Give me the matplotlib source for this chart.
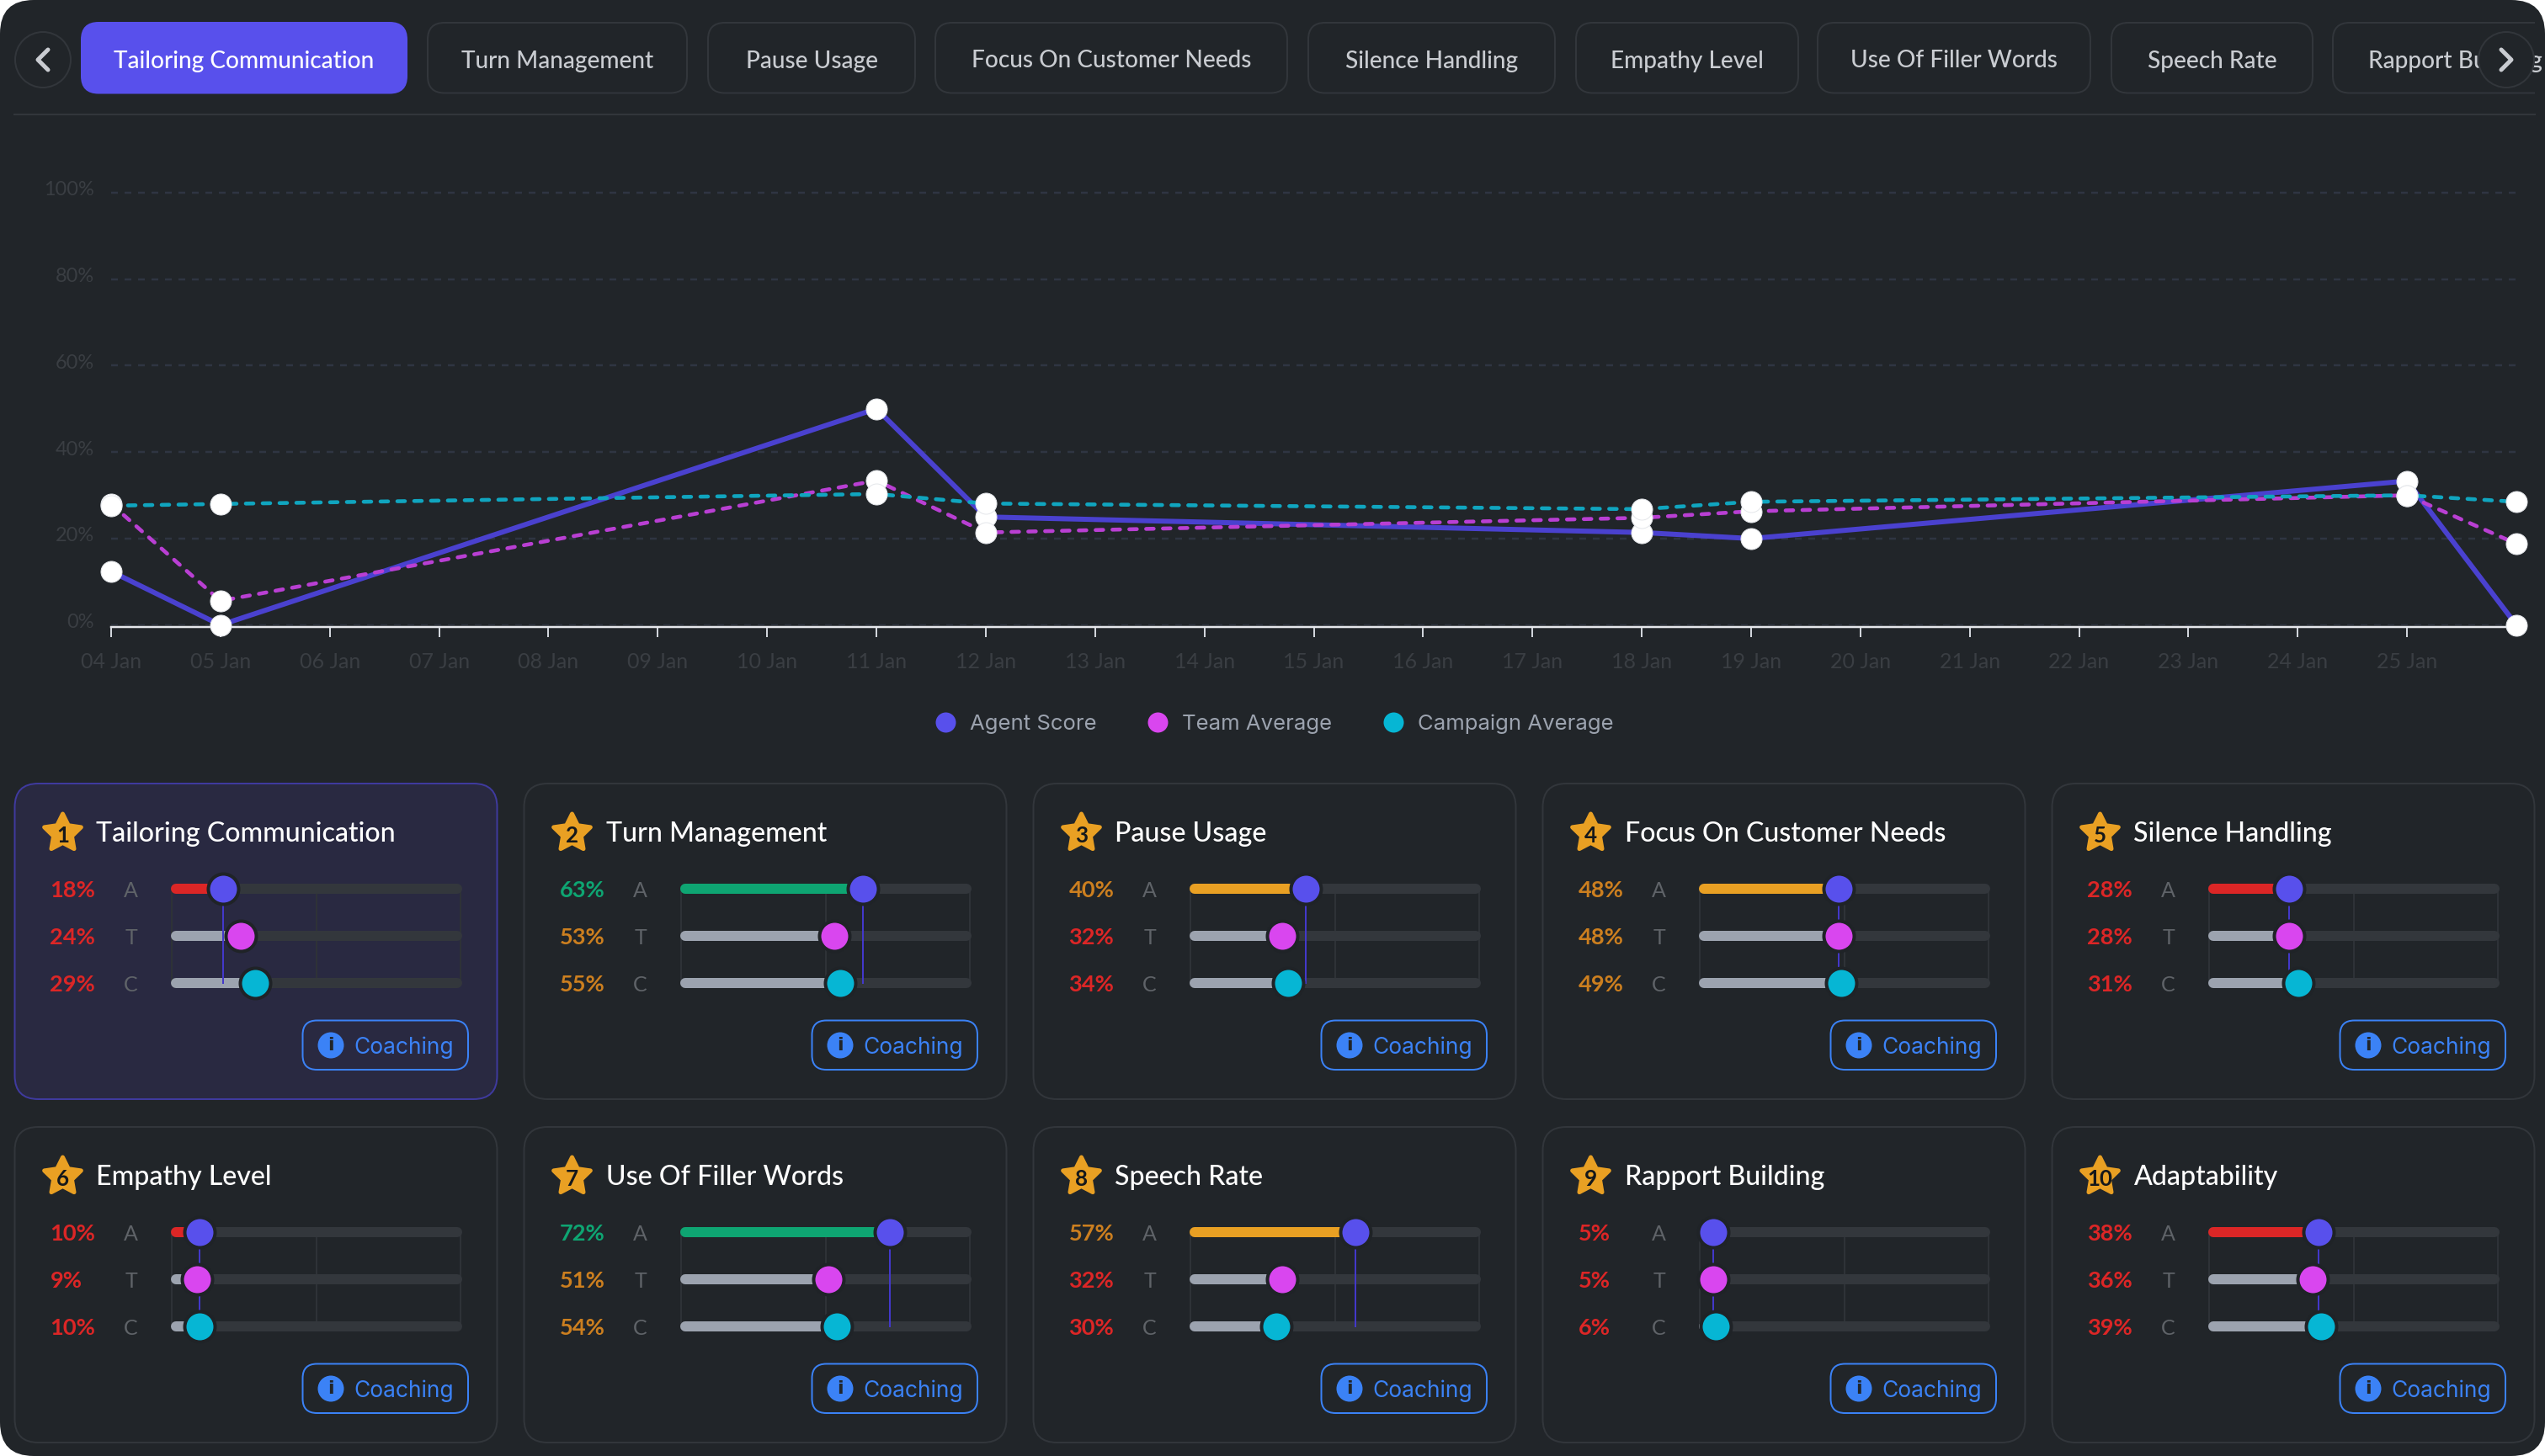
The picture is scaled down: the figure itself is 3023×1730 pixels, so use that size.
import matplotlib
matplotlib.use("Agg")
import matplotlib.pyplot as plt
from matplotlib.patches import FancyBboxPatch, Circle, Rectangle, PathPatch
from matplotlib.path import Path
from matplotlib.lines import Line2D
from matplotlib.transforms import Affine2D, ScaledTranslation

W, H = 3023, 1730
DPI = 100
plt.rcParams['lines.scale_dashes'] = False
plt.rcParams['font.family'] = ['Lato', 'DejaVu Sans']

# ---------- data ----------
tabs = ["Tailoring Communication", "Turn Management", "Pause Usage", "Focus On Customer Needs",
        "Silence Handling", "Empathy Level", "Use Of Filler Words", "Speech Rate", "Rapport Building"]
tab_edges = [(97, 483), (508, 816), (841, 1087), (1111, 1529), (1554, 1847),
             (1872, 2136), (2159, 2483), (2508, 2747), (2771, 3120)]

dates = ["04 Jan", "05 Jan", "06 Jan", "07 Jan", "08 Jan", "09 Jan", "10 Jan", "11 Jan", "12 Jan",
         "13 Jan", "14 Jan", "15 Jan", "16 Jan", "17 Jan", "18 Jan", "19 Jan", "20 Jan", "21 Jan",
         "22 Jan", "23 Jan", "24 Jan", "25 Jan"]
point_days = [0, 1, 7, 8, 14, 15, 21, 22]
agent_series = [12.4, 0, 50, 25, 21.4, 20, 33.3, 0]
team_series = [28, 5.6, 33.4, 21.4, 24.8, 26.3, 30, 18.8]
campaign_series = [27.6, 28, 30.3, 28.1, 26.8, 28.5, 30, 28.5]
y_ticks = [0, 20, 40, 60, 80, 100]
series_names = ["Agent Score", "Team Average", "Campaign Average"]

card_titles = ["Tailoring Communication", "Turn Management", "Pause Usage", "Focus On Customer Needs",
               "Silence Handling", "Empathy Level", "Use Of Filler Words", "Speech Rate",
               "Rapport Building", "Adaptability"]
agent_vals = [18, 63, 40, 48, 28, 10, 72, 57, 5, 38]
team_vals = [24, 53, 32, 48, 28, 9, 51, 32, 5, 36]
camp_vals = [29, 55, 34, 49, 31, 10, 54, 30, 6, 39]
row_letters = ["A", "T", "C"]

# ---------- style ----------
BG = "#212529"
BORDER = "#32363b"
AGENT, TEAM, CAMP = "#5850ec", "#d946ef", "#06b6d4"
L_AGENT, L_TEAM, L_CAMP = "#4a41cf", "#b93fd3", "#10a5bf"
RED, ORANGE, GREEN = "#dc2626", "#e9a023", "#0ea572"
TEXT_ORANGE = "#cc7f1f"
BLUE = "#3b82f6"
TRACK = "#33373c"
GREY = "#9ca3af"
DIM = "#3a3e43"


def pt(px):
    return px * 0.72


def grade(v):
    return RED if v < 40 else (ORANGE if v < 60 else GREEN)


def grade_text(v):
    return RED if v < 40 else (TEXT_ORANGE if v < 60 else GREEN)


fig = plt.figure(figsize=(W / DPI, H / DPI), dpi=DPI, facecolor="white")
ui = fig.add_axes([0, 0, 1, 1], zorder=0)
ui.set_xlim(0, W)
ui.set_ylim(H, 0)
ui.axis("off")


def rrect(x0, y0, x1, y1, r, fc="none", ec="none", lw=0, ax=ui, **kw):
    p = FancyBboxPatch((x0, y0), x1 - x0, y1 - y0, boxstyle=f"round,pad=0,rounding_size={r}",
                       fc=fc, ec=ec, lw=pt(lw), **kw)
    ax.add_patch(p)
    return p


def label(x, y, s, size, color, ha="left", weight="normal", family=None, **kw):
    return ui.text(x, y, s, fontsize=pt(size), color=color, ha=ha, va="center_baseline",
                   fontweight=weight, family=family or ['Lato', 'DejaVu Sans'], **kw)


rrect(0, 0, W, H, 40, fc=BG)

# ---------- tabs ----------
clip = Rectangle((0, 0), 3011, H, transform=ui.transData)
for i, (name, (x0, x1)) in enumerate(zip(tabs, tab_edges)):
    active = i == 0
    p = rrect(x0, 27, x1, 110.5, 20, fc=AGENT if active else "none",
              ec=AGENT if active else BORDER, lw=2)
    p.set_clip_path(clip)
    t = label((x0 + x1) / 2 if i < 8 else 2813, 70, name, 28, "white" if active else "#c9ccd1",
              ha="center" if i < 8 else "left", weight=500)
    t.set_clip_path(clip)

for cx, d in ((51, -1), (2977, 1)):
    ui.add_patch(Circle((cx, 71), 33, fc=BG, ec=BORDER, lw=pt(2), zorder=3))
    ui.add_line(Line2D([cx - 6 * d, cx + 6 * d, cx - 6 * d], [59, 71, 83], color="#c9ccd1", lw=pt(5),
                       solid_capstyle="round", solid_joinstyle="round", zorder=4))
ui.add_line(Line2D([17, 3011], [136, 136], color=BORDER, lw=pt(2)))

# ---------- main chart ----------
Y0, Y100 = 742.7, 228.7
X0, X1 = 132, 2989
top_val = 105
top_px = Y0 - (Y0 - Y100) * top_val / 100
chart = fig.add_axes([X0 / W, 1 - Y0 / H, (X1 - X0) / W, (Y0 - top_px) / H], zorder=1)
chart.patch.set_alpha(0)
chart.set_xlim(0, 22)
chart.set_ylim(0, top_val)
for s in ("top", "left", "right"):
    chart.spines[s].set_visible(False)
chart.spines["bottom"].set_position(("outward", pt(2.3)))
chart.spines["bottom"].set_color("#e5e7eb")
chart.spines["bottom"].set_linewidth(pt(2.5))
chart.set_xticks(range(len(dates)))
chart.set_xticklabels(dates)
chart.set_yticks(y_ticks)
chart.set_yticklabels([f"{v}%" for v in y_ticks])
chart.tick_params(axis="x", length=pt(12), width=pt(2), color="#d1d5db", pad=pt(18),
                  labelsize=pt(25), labelcolor=DIM)
chart.tick_params(axis="y", length=0, pad=pt(20), labelsize=pt(23.5), labelcolor=DIM)
shift = ScaledTranslation(0, 5 / DPI, fig.dpi_scale_trans)
for lab in chart.get_yticklabels():
    lab.set_transform(lab.get_transform() + shift)
chart.grid(axis="y", color="#2f3542", lw=pt(2.5), linestyle=(0, (pt(8), pt(8))))
chart.set_axisbelow(True)

chart.plot(point_days, agent_series, color=L_AGENT, lw=pt(6), zorder=3, clip_on=False,
           solid_joinstyle="miter")
for ser, col in ((team_series, L_TEAM), (campaign_series, L_CAMP)):
    chart.plot(point_days, ser, color=col, lw=pt(4.6), zorder=3, clip_on=False,
               linestyle=(0, (pt(9), pt(11))), dash_capstyle="round")
for ser in (agent_series, team_series, campaign_series):
    chart.scatter(point_days, ser, s=pt(25) ** 2, color="white", edgecolor="#e5e7eb",
                  linewidth=pt(1), zorder=4, clip_on=False)

handles = [Line2D([], [], ls="none", marker="o", ms=pt(24), color=c, mew=0) for c in (AGENT, TEAM, CAMP)]
leg = chart.legend(handles, series_names, ncol=3, loc="center", frameon=False,
                   bbox_to_anchor=(1514, 860.5), bbox_transform=ui.transData,
                   prop={"family": "Inter", "size": pt(25.7)}, labelcolor=GREY,
                   handlelength=0.94, handletextpad=0.66, columnspacing=2.35, borderpad=0, borderaxespad=0)

# ---------- cards ----------
CARD_W, CARD_H = 573, 375
PITCH = 605
ROW_TOPS = (931, 1339)
TRACK_L, TRACK_W = 185, 346
ROWS_Y = (124.5, 180.5, 236.5)
CAP = 6 / TRACK_W * 100
star_path = Path.unit_regular_star(5, innerCircle=0.5)

for i, title in enumerate(card_titles):
    cx0 = 17.5 + PITCH * (i % 5)
    cy0 = ROW_TOPS[i // 5]
    sel = i == 0
    rrect(cx0, cy0, cx0 + CARD_W, cy0 + CARD_H, 28, fc="#292941" if sel else "none",
          ec="#3f3a9e" if sel else BORDER, lw=2)

    # star + rank
    sx, sy = cx0 + 57, cy0 + 59
    ui.add_patch(PathPatch(star_path, fc=ORANGE, ec=ORANGE, lw=pt(5), joinstyle="round",
                           transform=Affine2D().scale(23, -23).translate(sx, sy) + ui.transData))
    label(sx, sy + 1, str(i + 1), 26, "#15181b", ha="center", weight="bold")
    label(cx0 + 97, cy0 + 57, title, 32.2, "white", weight=500)

    vals = (agent_vals[i], team_vals[i], camp_vals[i])
    for v, letter, ry in zip(vals, row_letters, ROWS_Y):
        label(cx0 + 42, cy0 + ry + 1, f"{v}%", 27.2, grade_text(v), weight="bold")
        label(cx0 + 146, cy0 + ry + 1, letter, 25, "#5f6368", ha="right")

    # score tracks: one small axes per card
    step = ROWS_Y[1] - ROWS_Y[0]
    top = cy0 + ROWS_Y[0] - step / 2
    ax = fig.add_axes([(cx0 + TRACK_L) / W, 1 - (top + 3 * step) / H, TRACK_W / W, 3 * step / H], zorder=2)
    ax.set_xlim(0, 100)
    ax.set_ylim(2.5, -0.5)
    ax.axis("off")
    rows = range(3)
    for gx in (0.4, 50, 99.6):
        ax.plot([gx, gx], [0, 2], color="#2e3237", lw=pt(2), zorder=1)
    for r, v in zip(rows, vals):
        fill = grade(v) if r == 0 else GREY
        ax.plot([CAP, 100 - CAP], [r, r], color=TRACK, lw=pt(12), solid_capstyle="round", zorder=2)
        ax.plot([CAP, max(v, CAP)], [r, r], color=fill, lw=pt(12), solid_capstyle="round", zorder=3)
    ax.plot([vals[0], vals[0]], [0, 2], color="#4338ca", lw=pt(2), zorder=4)
    ax.scatter([vals[0]], [0], s=pt(36) ** 2, color=AGENT, edgecolor="#1f2327", linewidth=pt(4), zorder=5, clip_on=False)
    ax.scatter([vals[1]], [1], s=pt(36) ** 2, color=TEAM, edgecolor="#1f2327", linewidth=pt(4), zorder=5, clip_on=False)
    ax.scatter([vals[2]], [2], s=pt(36) ** 2, color=CAMP, edgecolor="#1f2327", linewidth=pt(4), zorder=5, clip_on=False)

    # coaching button
    rrect(cx0 + 342, cy0 + 281.5, cx0 + 538.5, cy0 + 340, 17, ec=BLUE, lw=2)
    ui.add_patch(Circle((cx0 + 375.5, cy0 + 311), 15.5, fc=BLUE))
    ui.text(cx0 + 375.5, cy0 + 311.5, "i", fontsize=pt(22), color=BG, ha="center", va="center",
            fontweight="bold", family="DejaVu Sans")
    label(cx0 + 403, cy0 + 311, "Coaching", 26.4, BLUE, family="Inter")

fig.savefig("out.png", dpi=DPI, facecolor="white")
